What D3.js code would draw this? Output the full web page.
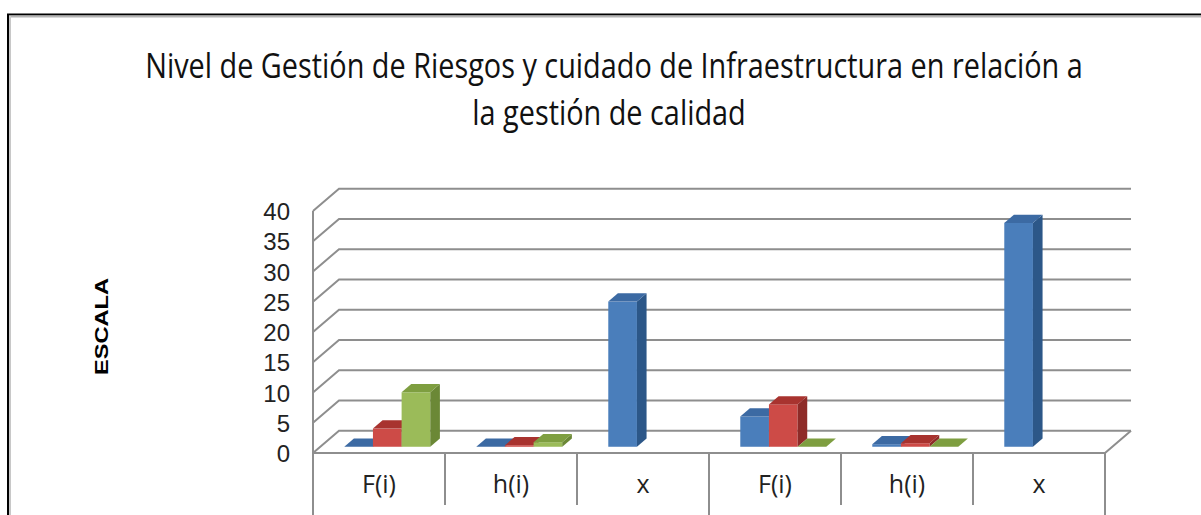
<!DOCTYPE html>
<html lang="es">
<head>
<meta charset="UTF-8">
<title>Nivel de Gestión de Riesgos</title>
<style>
  body { margin: 0; background: #fff; }
  svg { display: block; }
</style>
</head>
<body>
<svg width="1201" height="515"></svg>
<script src="https://d3js.org/d3.v7.min.js"></script>
<script>
// datos
var categories = ["F(i)", "h(i)", "x", "F(i)", "h(i)", "x"];
var serie1 = [0, 0, 24, 5, 0.42, 37];
var serie2 = [3, 0.25, null, 7, 0.58, null];
var serie3 = [9, 0.75, null, 0, 0, null];
var yTicks = [0, 5, 10, 15, 20, 25, 30, 35, 40];
var titleLines = ["Nivel de Gestión de Riesgos y cuidado de Infraestructura en relación a", "la gestión de calidad"];
var yTitle = "ESCALA";

var series = [serie1, serie2, serie3];
var colors = [
  {front: "#4a7ebb", side: "#2c5788", top: "#3c6aa3"},
  {front: "#cd4b47", side: "#8e2b28", top: "#a8332f"},
  {front: "#9bbb59", side: "#6b8836", top: "#7e9e40"}
];

var svg = d3.select("svg");
var W = +svg.attr("width"), H = +svg.attr("height");

// caja 3d
var depth = {dx: 26, dy: -22.3};
var barFront = 0.28, barDepth = 0.37;
var gridColor = "#8e8e8e";

var x = d3.scaleBand().domain(d3.range(categories.length)).range([313, 1105]);
var xIn = d3.scaleBand().domain(d3.range(series.length)).range([24, 110]);
var y = d3.scaleLinear().domain([0, 40]).range([453, 211]);

// marco
svg.append("line").attr("x1", 7).attr("x2", W).attr("y1", 14.5).attr("y2", 14.5)
  .attr("stroke", "#000").attr("stroke-width", 2);
svg.append("line").attr("x1", 7).attr("x2", W).attr("y1", 16.5).attr("y2", 16.5)
  .attr("stroke", "#b4b4b4").attr("stroke-width", 2);
svg.append("line").attr("x1", 8).attr("x2", 8).attr("y1", 14).attr("y2", H)
  .attr("stroke", "#000").attr("stroke-width", 2);
svg.append("line").attr("x1", 10).attr("x2", 10).attr("y1", 16).attr("y2", H)
  .attr("stroke", "#c8c8c8").attr("stroke-width", 2);

// titulo (fuente estrecha: se escala en x)
var title = svg.append("g").attr("font-family", "'Open Sans', sans-serif")
  .attr("font-size", 34).attr("fill", "#111").attr("text-anchor", "middle");
var t1 = title.append("text").attr("x", 0).attr("y", 78).text(titleLines[0]);
var t2 = title.append("text").attr("x", -5).attr("y", 125).text(titleLines[1]);
var sx = 938 / t1.node().getComputedTextLength();
t2.attr("x", -5 / sx);
title.attr("transform", "translate(614,0) scale(" + sx + ",1)");

// paredes y lineas de division
var x0 = x.range()[0], x1 = x.range()[1];
var grid = svg.append("g").attr("stroke", gridColor).attr("stroke-width", 2).attr("fill", "none");
grid.selectAll("path.grid")
  .data(yTicks)
  .enter()
  .append("path")
  .attr("class", "grid")
  .attr("d", function(d){
    return "M" + x0 + "," + y(d) + "L" + (x0 + depth.dx) + "," + (y(d) + depth.dy) +
      "L" + (x1 + depth.dx) + "," + (y(d) + depth.dy);
  });
// piso
grid.append("path")
  .attr("d", "M" + x0 + "," + y(0) + "L" + x1 + "," + y(0) + "L" + (x1 + depth.dx) + "," + (y(0) + depth.dy));
// eje vertical
grid.append("line").attr("x1", x0).attr("x2", x0).attr("y1", y(40)).attr("y2", H);
// divisiones de categorias
grid.selectAll("line.div")
  .data(d3.range(1, categories.length + 1))
  .enter()
  .append("line")
  .attr("class", "div")
  .attr("x1", function(d){ return x0 + d * x.step(); })
  .attr("x2", function(d){ return x0 + d * x.step(); })
  .attr("y1", y(0))
  .attr("y2", function(d){ return d % 3 == 0 ? H : 505; });

// barras
var bdx = depth.dx * barDepth, bdy = depth.dy * barDepth;
var ox = depth.dx * barFront, oy = depth.dy * barFront;
var bars = [];
categories.forEach(function(c, i){
  series.forEach(function(s, j){
    if (s[i] == null) return;
    bars.push({cat: i, ser: j, value: s[i]});
  });
});
var bw = xIn.bandwidth();
var gb = svg.append("g");
bars.forEach(function(b){
  var bx = x(b.cat) + xIn(b.ser) + ox;
  var yb = y(0) + oy;
  var yt = y(b.value) + oy;
  var c = colors[b.ser];
  var g = gb.append("g");
  g.append("rect")
    .attr("x", bx).attr("y", yt)
    .attr("width", bw).attr("height", yb - yt)
    .attr("fill", c.front);
  g.append("path")
    .attr("d", "M" + (bx + bw) + "," + yt + "L" + (bx + bw + bdx) + "," + (yt + bdy) +
      "L" + (bx + bw + bdx) + "," + (yb + bdy) + "L" + (bx + bw) + "," + yb + "Z")
    .attr("fill", c.side);
  g.append("path")
    .attr("d", "M" + bx + "," + yt + "L" + (bx + bdx) + "," + (yt + bdy) +
      "L" + (bx + bw + bdx) + "," + (yt + bdy) + "L" + (bx + bw) + "," + yt + "Z")
    .attr("fill", c.top);
});

// eje y
var yAxis = d3.axisLeft(y).tickValues(yTicks).tickSize(0).tickPadding(0);
var ya = svg.append("g").attr("transform", "translate(290,1)").call(yAxis);
ya.select(".domain").remove();
ya.selectAll("text").attr("font-family", "'Liberation Sans', Arial, sans-serif").attr("font-size", 24).attr("fill", "#222");

// eje x
var xAxis = d3.axisBottom(x).tickSize(0).tickPadding(0).tickFormat(function(d){ return categories[d]; });
var xa = svg.append("g").attr("transform", "translate(0,475)").call(xAxis);
xa.select(".domain").remove();
xa.selectAll("text").attr("font-family", "'Open Sans', sans-serif").attr("font-size", 25).attr("fill", "#222");

// titulo eje y
svg.append("text")
  .attr("transform", "translate(107.5,326.5) rotate(-90)")
  .attr("text-anchor", "middle")
  .attr("font-family", "'Liberation Sans', Arial, sans-serif")
  .attr("font-weight", "bold")
  .attr("font-size", 17.5)
  .attr("textLength", 97)
  .attr("lengthAdjust", "spacingAndGlyphs")
  .text(yTitle);
</script>
</body>
</html>
